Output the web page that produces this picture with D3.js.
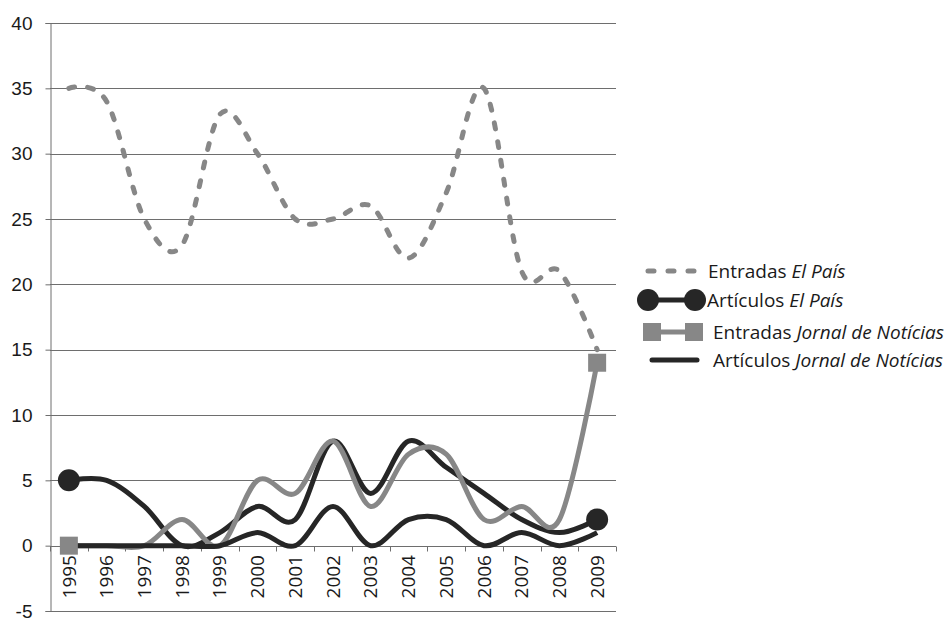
<!DOCTYPE html>
<html>
<head>
<meta charset="utf-8">
<script src="https://cdn.jsdelivr.net/npm/d3@7"></script>
<style>
  body { margin: 0; background: #fff; }
  svg { font-family: "Open Sans", "Noto Sans", sans-serif; }
  .tick text { font-size: 19px; fill: #1a1a1a; }
  .legend text { font-size: 19px; fill: #1a1a1a; }
</style>
</head>
<body>
<div id="chart"></div>
<script>
const years = ["1995","1996","1997","1998","1999","2000","2001","2002","2003","2004","2005","2006","2007","2008","2009"];
const entradasElPais = [35, 34, 25, 23, 33, 30, 25, 25, 26, 22, 27, 35, 21, 21, 15];
const articulosElPais = [5, 5, 3, 0, 1, 3, 2, 8, 4, 8, 6, 4, 2, 1, 2];
const entradasJornal = [0, 0, 0, 2, 0, 5, 4, 8, 3, 7, 7, 2, 3, 2, 14];
const articulosJornal = [0, 0, 0, 0, 0, 1, 0, 3, 0, 2, 2, 0, 1, 0, 1];
const yTicks = [-5, 0, 5, 10, 15, 20, 25, 30, 35, 40];

const width = 947, height = 619;
const grey = "#878787", dark = "#262626";

const svg = d3.select("#chart").append("svg")
  .attr("width", width)
  .attr("height", height);

const x = d3.scaleBand().domain(years).range([50, 616]);
const y = d3.scaleLinear().domain([-5, 40]).range([611, 23]);
const cx = d => x(d) + x.bandwidth() / 2;

// gridlines
svg.append("g")
  .selectAll("line")
  .data(yTicks)
  .enter()
  .append("line")
  .attr("x1", 50)
  .attr("x2", 616)
  .attr("y1", d => Math.round(y(d)) + 0.5)
  .attr("y2", d => Math.round(y(d)) + 0.5)
  .attr("stroke", "#6e6e6e")
  .attr("stroke-width", 1);

// y axis
let yAxis = svg.append("g")
  .attr("transform", "translate(50.5,0)")
  .call(d3.axisLeft(y).tickValues(yTicks).tickSize(5).tickPadding(13).tickFormat(d => String(d)));
yAxis.select(".domain").attr("stroke", "#6e6e6e");
yAxis.selectAll(".tick line").attr("stroke", "#6e6e6e");
yAxis.selectAll(".tick text").attr("font-family", null).attr("font-size", null);

// x axis (at value 0), ticks on category boundaries
let x0 = Math.round(y(0)) + 0.5;
svg.append("line")
  .attr("x1", 50).attr("x2", 616)
  .attr("y1", x0).attr("y2", x0)
  .attr("stroke", "#6e6e6e");
svg.append("g")
  .selectAll("line")
  .data(years.map(d => x(d)).concat([x.range()[1]]))
  .enter()
  .append("line")
  .attr("x1", d => Math.round(d) + 0.5)
  .attr("x2", d => Math.round(d) + 0.5)
  .attr("y1", x0)
  .attr("y2", x0 + 5)
  .attr("stroke", "#6e6e6e");

svg.append("g")
  .attr("class", "tick")
  .selectAll("text")
  .data(years)
  .enter()
  .append("text")
  .attr("transform", d => `translate(${cx(d)},555) rotate(-90)`)
  .attr("dy", "0.35em")
  .style("text-anchor", "end")
  .text(d => d);

// series
const line = d3.line()
  .x((d, i) => cx(years[i]))
  .y(d => y(d))
  .curve(d3.curveCardinal.tension(0));

svg.append("path")
  .datum(entradasElPais)
  .attr("d", line)
  .attr("fill", "none")
  .attr("stroke", grey)
  .attr("stroke-width", 5)
  .attr("stroke-dasharray", "6 13")
  .attr("stroke-linecap", "round");

svg.append("path")
  .datum(articulosElPais)
  .attr("d", line)
  .attr("fill", "none")
  .attr("stroke", dark)
  .attr("stroke-width", 5)
  .attr("stroke-linejoin", "round");

svg.append("path")
  .datum(entradasJornal)
  .attr("d", line)
  .attr("fill", "none")
  .attr("stroke", grey)
  .attr("stroke-width", 5)
  .attr("stroke-linejoin", "round");

svg.append("path")
  .datum(articulosJornal)
  .attr("d", line)
  .attr("fill", "none")
  .attr("stroke", dark)
  .attr("stroke-width", 5)
  .attr("stroke-linejoin", "round");

// end markers
const last = years.length - 1;
svg.selectAll("circle.mk")
  .data([0, last])
  .enter()
  .append("circle")
  .attr("class", "mk")
  .attr("cx", i => cx(years[i]))
  .attr("cy", i => y(articulosElPais[i]))
  .attr("r", 11)
  .attr("fill", dark);

svg.selectAll("rect.mk")
  .data([0, last])
  .enter()
  .append("rect")
  .attr("class", "mk")
  .attr("x", i => cx(years[i]) - 9)
  .attr("y", i => y(entradasJornal[i]) - 9)
  .attr("width", 18)
  .attr("height", 18)
  .attr("fill", grey);

// legend
const lg = svg.append("g").attr("class", "legend");

lg.append("line")
  .attr("x1", 648).attr("x2", 700).attr("y1", 271).attr("y2", 271)
  .attr("stroke", grey).attr("stroke-width", 5)
  .attr("stroke-dasharray", "6 14").attr("stroke-linecap", "round");
lg.append("line")
  .attr("x1", 648).attr("x2", 695).attr("y1", 300).attr("y2", 300)
  .attr("stroke", dark).attr("stroke-width", 5);
lg.selectAll("circle")
  .data([648, 695])
  .enter()
  .append("circle")
  .attr("cx", d => d).attr("cy", 300).attr("r", 11).attr("fill", dark);
lg.append("line")
  .attr("x1", 652).attr("x2", 695).attr("y1", 332).attr("y2", 332)
  .attr("stroke", grey).attr("stroke-width", 5);
lg.selectAll("rect")
  .data([643, 685])
  .enter()
  .append("rect")
  .attr("x", d => d).attr("y", 323).attr("width", 18).attr("height", 18)
  .attr("fill", grey);
lg.append("line")
  .attr("x1", 652).attr("x2", 697).attr("y1", 360).attr("y2", 360)
  .attr("stroke", dark).attr("stroke-width", 5).attr("stroke-linecap", "round");

const legendItems = [
  { y: 271, x: 708, a: "Entradas ", b: "El País" },
  { y: 300, x: 707, a: "Artículos ", b: "El País" },
  { y: 332, x: 713, a: "Entradas ", b: "Jornal de Notícias" },
  { y: 360, x: 713, a: "Artículos ", b: "Jornal de Notícias" }
];
legendItems.forEach(d => {
  let t = lg.append("text")
    .attr("x", d.x)
    .attr("y", d.y)
    .attr("dy", "0.35em");
  t.append("tspan").text(d.a);
  t.append("tspan").style("font-style", "italic").text(d.b);
});
</script>
</body>
</html>
